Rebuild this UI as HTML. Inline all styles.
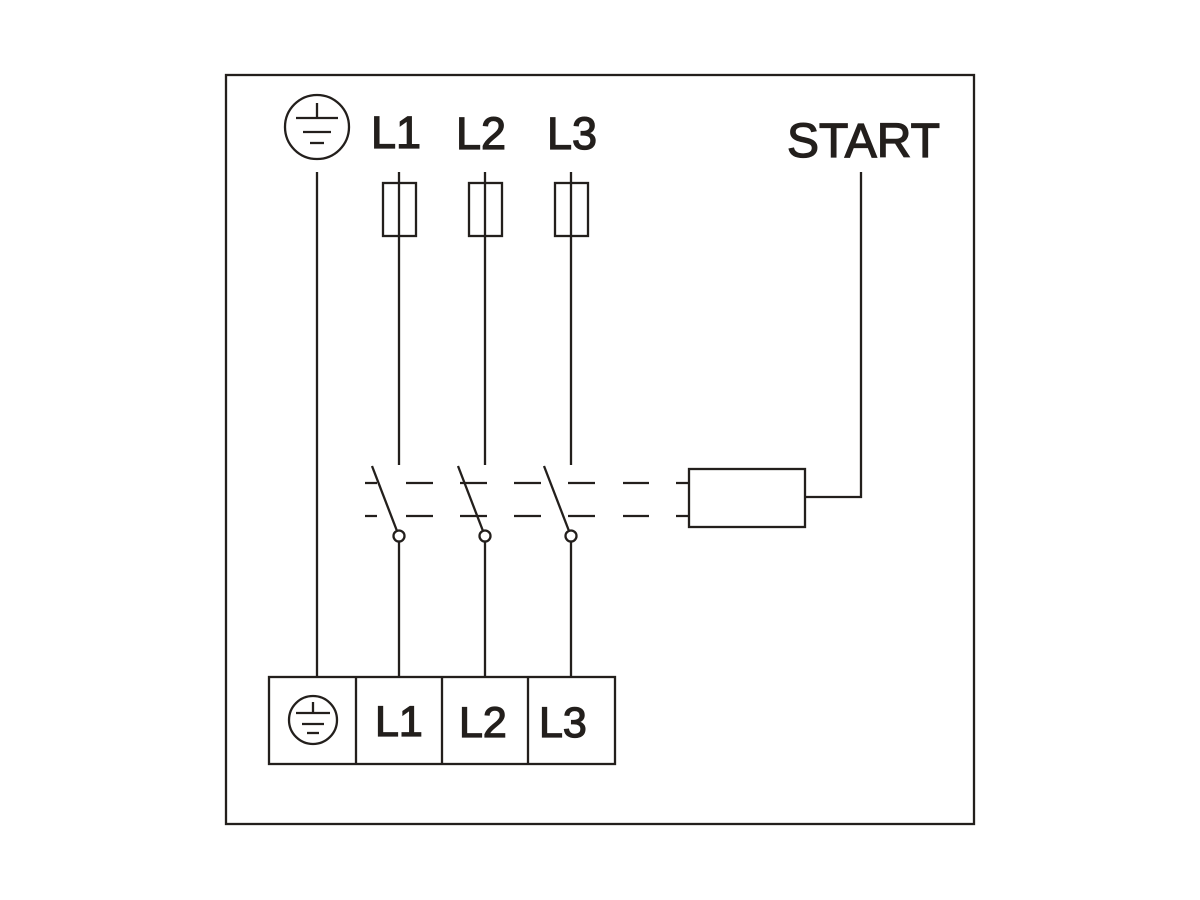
<!DOCTYPE html>
<html><head><style>body{margin:0;background:#fff}svg{display:block}</style></head><body>
<svg width="1200" height="900" viewBox="0 0 1200 900" xmlns="http://www.w3.org/2000/svg">
<rect width="1200" height="900" fill="#fff"/>
<g fill="none" stroke="#231f1c" stroke-width="2.3">
<rect x="226" y="75" width="748" height="749"/>
<circle cx="317" cy="127" r="32"/>
<line x1="317" y1="103" x2="317" y2="118"/>
<line x1="296" y1="118" x2="338" y2="118"/>
<line x1="303" y1="132" x2="331" y2="132"/>
<line x1="310" y1="143" x2="324" y2="143"/>
<line x1="317" y1="172" x2="317" y2="677"/>
<rect x="383" y="183" width="33" height="53"/>
<rect x="469" y="183" width="33" height="53"/>
<rect x="555" y="183" width="33" height="53"/>
<line x1="399" y1="172" x2="399" y2="465"/>
<line x1="485" y1="172" x2="485" y2="465"/>
<line x1="571" y1="172" x2="571" y2="465"/>
<line x1="399" y1="542" x2="399" y2="677"/>
<line x1="485" y1="542" x2="485" y2="677"/>
<line x1="571" y1="542" x2="571" y2="677"/>
<line x1="372" y1="466" x2="397" y2="531"/>
<line x1="458" y1="466" x2="483" y2="531"/>
<line x1="544" y1="466" x2="569" y2="531"/>
<circle cx="399" cy="536" r="5.5"/>
<circle cx="485" cy="536" r="5.5"/>
<circle cx="571" cy="536" r="5.5"/>
<path d="M365 483H377M406 483H433M460 483H487M514 483H541M568 483H595M623 483H649M676 483H689"/>
<path d="M365 516H377M406 516H433M460 516H487M514 516H541M568 516H595M623 516H649M676 516H689"/>
<rect x="689" y="469" width="116" height="58"/>
<polyline points="805,497 861,497 861,172"/>
<rect x="269" y="677" width="346" height="87"/>
<line x1="356" y1="677" x2="356" y2="764"/>
<line x1="442" y1="677" x2="442" y2="764"/>
<line x1="528" y1="677" x2="528" y2="764"/>
<circle cx="313" cy="720" r="24"/>
<line x1="313" y1="702" x2="313" y2="713"/>
<line x1="296" y1="713" x2="330" y2="713"/>
<line x1="302" y1="724" x2="324" y2="724"/>
<line x1="307" y1="733" x2="319" y2="733"/>
</g>
<g font-family="Liberation Sans, sans-serif" fill="#231f1c" stroke="#231f1c" stroke-width="1.3">
<text x="371" y="148" font-size="45">L1</text>
<text x="456" y="149" font-size="45">L2</text>
<text x="547" y="149" font-size="45">L3</text>
<text x="787" y="157" font-size="48">START</text>
<text x="375" y="736" font-size="43">L1</text>
<text x="459" y="737" font-size="43">L2</text>
<text x="539" y="737" font-size="43">L3</text>
</g>
</svg>
</body></html>
